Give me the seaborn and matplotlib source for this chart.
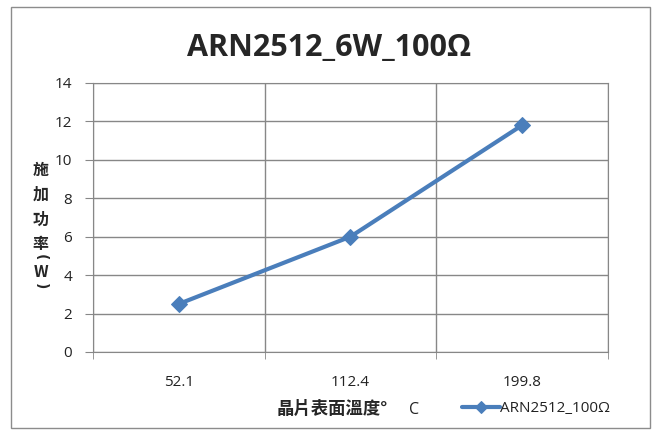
import matplotlib
matplotlib.use("Agg")
import matplotlib.pyplot as plt
from matplotlib.patches import Rectangle
from matplotlib.ticker import MultipleLocator, FixedLocator
import seaborn as sns
import pandas as pd

temps = ["52.1", "112.4", "199.8"]
power = [2.5, 6.0, 11.8]
series_name = "ARN2512_100Ω"
title = "ARN2512_6W_100Ω"
xlabel_main = "晶片表面溫度°"
xlabel_unit = "C"
ylabel_chars = ["施", "加", "功", "率", "(", "W", ")"]

sns.set_style("white")
plt.rcParams["font.family"] = ["Noto Sans CJK TC", "DejaVu Sans"]

df = pd.DataFrame({"temp": temps, "power": power})
line_color = "#4A7EBB"
grid_color = "#878787"
latin = ["Open Sans", "DejaVu Sans"]

fig = plt.figure(figsize=(6.59, 4.34), dpi=100)
fig.patches.append(Rectangle((0.016, 0.014), 0.971, 0.97, transform=fig.transFigure,
                             fill=False, edgecolor="#8c8c8c", linewidth=1.0))
ax = fig.add_axes([0.1411, 0.189, 0.7815, 0.620])

sns.lineplot(data=df, x="temp", y="power", ax=ax, color=line_color, linewidth=3,
             marker="D", markersize=8, markeredgecolor=line_color, label=series_name,
             sort=False)

ax.set_xlim(-0.5, 2.5)
ax.set_ylim(0, 14)
ax.yaxis.set_major_locator(MultipleLocator(2))
ax.xaxis.set_minor_locator(FixedLocator([-0.5, 0.5, 1.5, 2.5]))
ax.grid(axis="y", which="major", color=grid_color, linewidth=1)
ax.grid(axis="x", which="minor", color=grid_color, linewidth=1)
ax.set_axisbelow(True)
for s in ax.spines.values():
    s.set_color(grid_color)
ax.tick_params(axis="y", which="major", left=True, length=6, color=grid_color,
               labelsize=11, pad=9)
ax.tick_params(axis="x", which="major", bottom=False, labelsize=11, pad=13)
ax.tick_params(axis="x", which="minor", bottom=True, length=5, color=grid_color)
for lbl in ax.get_xticklabels() + ax.get_yticklabels():
    lbl.set_family(latin)
    lbl.set_color("#222222")

ax.set_xlabel("")
ax.set_ylabel("")
fig.text(0.5, 0.889, title, ha="center", va="center", fontsize=22, fontweight="bold",
         family=latin)
fig.text(0.42, 0.058, xlabel_main, ha="left", va="center", fontsize=12.5, fontweight="bold")
fig.text(0.62, 0.056, xlabel_unit, ha="left", va="center", fontsize=11.5, family=latin,
         color="#222222")

# stacked vertical y label, brackets turned sideways as in vertical CJK text
ys = [170, 195, 220, 244, 257, 272, 286]
for ch, y in zip(ylabel_chars, ys):
    if ch in "()":
        fig.text(0.062, 1 - y / 434, ch, ha="center", va="center", fontsize=10,
                 fontweight="bold", family=["DejaVu Sans"], rotation=-90,
                 rotation_mode="anchor")
    else:
        fig.text(0.062, 1 - y / 434, ch, ha="center", va="center", fontsize=11.5,
                 fontweight="bold", family=["Noto Sans CJK TC", "DejaVu Sans"])

leg = ax.legend(loc="center left", bbox_to_anchor=(0.701, 0.058), bbox_transform=fig.transFigure,
                frameon=False, handlelength=2.5, handletextpad=0.0, markerscale=0.8,
                borderpad=0, borderaxespad=0,
                prop={"family": latin, "size": 11})
for t in leg.get_texts():
    t.set_color("#222222")

fig.savefig("out.png", dpi=100)
